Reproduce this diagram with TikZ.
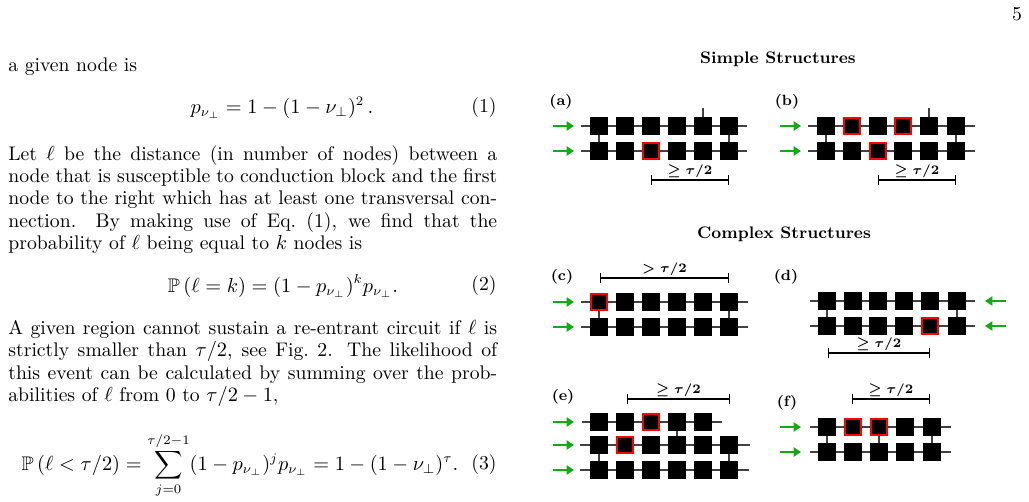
\documentclass[tikz,border=0pt]{standalone}
\usepackage{amsmath,amssymb}
\usetikzlibrary{arrows.meta}
\begin{document}
\begin{tikzpicture}[x=0.538pt,y=-0.538pt,
  sq/.style={fill=black,draw=black,minimum size=8.8pt,inner sep=0pt},
  redsq/.style={fill=black,draw=red,line width=1.1pt,minimum size=8.8pt,inner sep=0pt},
  ln/.style={draw=black!75,line width=0.6pt},
  garr/.style={draw={rgb,255:red,20;green,170;blue,20},line width=1.2pt,-{Triangle[length=4pt,width=5pt]}},
  bar/.style={line width=0.7pt,{Bar[width=5pt]}-{Bar[width=5pt]}},
  lab/.style={font=\footnotesize\bfseries,inner sep=0pt},
  blab/.style={font=\scriptsize\boldmath,inner sep=0.8pt,above},
  txt/.style={inner sep=0pt,font=\fontsize{10.6}{12}\selectfont}]
\useasboundingbox (0,0) rectangle (1029,502);
% page number
\node[txt] (pg) at (1017,14) {5};
% left column text
\node[txt,anchor=base west] (t0) at (8,72) {a given node is};
\node[txt] (e1) at (282,108) {$\displaystyle p_{\nu_\perp} = 1-(1-\nu_\perp)^2\,.$};
\node[txt,anchor=east] (n1) at (497,108) {(1)};
\node[txt,anchor=north west,text width=263pt,align=justify] (p1) at (8,145) {Let $\ell$ be the distance (in number of nodes) between a\linebreak node that is susceptible to conduction block and the first\linebreak node to the right which has at least one transversal con-\linebreak nection. By making use of Eq.~(1), we find that the\linebreak probability of $\ell$ being equal to $k$ nodes is};
\node[txt] (e2) at (283,286) {$\displaystyle \mathbb{P}\left(\ell=k\right) = (1-p_{\nu_\perp})^k p_{\nu_\perp}.$};
\node[txt,anchor=east] (n2) at (497,286) {(2)};
\node[txt,anchor=north west,text width=263pt,align=justify] (p2) at (8,320) {A given region cannot sustain a re-entrant circuit if $\ell$ is\linebreak strictly smaller than $\tau/2$, see Fig.~2. The likelihood of\linebreak this event can be calculated by summing over the prob-\linebreak abilities of $\ell$ from 0 to $\tau/2-1$,};
\node[txt] (e3) at (240,465) {$\displaystyle \mathbb{P}\left(\ell<\tau/2\right) = \sum_{j=0}^{\tau/2-1}(1-p_{\nu_\perp})^j p_{\nu_\perp} = 1-(1-\nu_\perp)^\tau.$};
\node[txt,anchor=east] (n3) at (497,465) {(3)};
% titles
\node[font=\small\bfseries,inner sep=0pt] (ts) at (778,59) {Simple Structures};
\node[font=\small\bfseries,inner sep=0pt] (tc) at (784,234) {Complex Structures};
% ===== (a)
\node[lab] (la) at (561,102) {(a)};
\coordinate (a1L) at (581,126); \coordinate (a1R) at (747,126);
\coordinate (a2L) at (581,151); \coordinate (a2R) at (747,151);
\draw[ln] (a1L) -- (a1R); \draw[ln] (a2L) -- (a2R);
\foreach \i/\x in {1/599,2/625,3/651,4/677,5/703,6/729}{
  \node[sq] (a1\i) at (\x,126) {}; \node[sq] (a2\i) at (\x,151) {};}
\draw[ln] (a11) -- (a21); \draw[ln] (a16) -- (a26);
\coordinate (a5t) at (703,108); \draw[ln] (a15) -- (a5t);
\node[redsq] (a23r) at (a23) {};
\coordinate (aq1) at (553,126); \coordinate (aq2) at (574,126);
\coordinate (aq3) at (553,151); \coordinate (aq4) at (574,151);
\draw[garr] (aq1) -- (aq2); \draw[garr] (aq3) -- (aq4);
\coordinate (ab1) at (651,180); \coordinate (ab2) at (729,180);
\draw[bar] (ab1) -- node[blab] {$\geq\tau/2$} (ab2);
% ===== (b)
\node[lab] (lb) at (787,102) {(b)};
\coordinate (b1L) at (808,126); \coordinate (b1R) at (975,126);
\coordinate (b2L) at (808,151); \coordinate (b2R) at (975,151);
\draw[ln] (b1L) -- (b1R); \draw[ln] (b2L) -- (b2R);
\foreach \i/\x in {1/826,2/852,3/878,4/903,5/929,6/956}{
  \node[sq] (b1\i) at (\x,126) {}; \node[sq] (b2\i) at (\x,151) {};}
\draw[ln] (b11) -- (b21); \draw[ln] (b16) -- (b26);
\coordinate (b5t) at (929,108); \draw[ln] (b15) -- (b5t);
\node[redsq] (b12r) at (b12) {}; \node[redsq] (b14r) at (b14) {}; \node[redsq] (b23r) at (b23) {};
\coordinate (bq1) at (780,126); \coordinate (bq2) at (801,126);
\coordinate (bq3) at (780,151); \coordinate (bq4) at (801,151);
\draw[garr] (bq1) -- (bq2); \draw[garr] (bq3) -- (bq4);
\coordinate (bb1) at (878,180); \coordinate (bb2) at (956,180);
\draw[bar] (bb1) -- node[blab] {$\geq\tau/2$} (bb2);
% ===== (c)
\node[lab] (lc) at (562,277) {(c)};
\coordinate (c1L) at (581,302); \coordinate (c1R) at (748,302);
\coordinate (c2L) at (581,327); \coordinate (c2R) at (748,327);
\draw[ln] (c1L) -- (c1R); \draw[ln] (c2L) -- (c2R);
\foreach \i/\x in {1/599,2/625,3/651,4/677,5/703,6/729}{
  \node[sq] (c1\i) at (\x,302) {}; \node[sq] (c2\i) at (\x,327) {};}
\draw[ln] (c11) -- (c21); \draw[ln] (c16) -- (c26);
\node[redsq] (c11r) at (c11) {};
\coordinate (cq1) at (553,302); \coordinate (cq2) at (574,302);
\coordinate (cq3) at (553,327); \coordinate (cq4) at (574,327);
\draw[garr] (cq1) -- (cq2); \draw[garr] (cq3) -- (cq4);
\coordinate (cb1) at (600,278); \coordinate (cb2) at (729,278);
\draw[bar] (cb1) -- node[blab] {$>\tau/2$} (cb2);
% ===== (d)
\node[lab] (ld) at (786,277) {(d)};
\coordinate (d1L) at (810,301); \coordinate (d1R) at (975,301);
\coordinate (d2L) at (810,326); \coordinate (d2R) at (975,326);
\draw[ln] (d1L) -- (d1R); \draw[ln] (d2L) -- (d2R);
\foreach \i/\x in {1/827,2/853,3/878,4/904,5/930,6/957}{
  \node[sq] (d1\i) at (\x,301) {}; \node[sq] (d2\i) at (\x,326) {};}
\draw[ln] (d11) -- (d21); \draw[ln] (d16) -- (d26);
\node[redsq] (d25r) at (d25) {};
\coordinate (dq1) at (1006,301); \coordinate (dq2) at (985,301);
\coordinate (dq3) at (1006,326); \coordinate (dq4) at (985,326);
\draw[garr] (dq1) -- (dq2); \draw[garr] (dq3) -- (dq4);
\coordinate (db1) at (828,353); \coordinate (db2) at (930,353);
\draw[bar] (db1) -- node[blab] {$\geq\tau/2$} (db2);
% ===== (e)
\node[lab] (le) at (563,397) {(e)};
\coordinate (e1L) at (582,422); \coordinate (e1R) at (722,422);
\coordinate (e2L) at (580,445); \coordinate (e2R) at (750,445);
\coordinate (e3L) at (580,470); \coordinate (e3R) at (749,470);
\draw[ln] (e1L) -- (e1R); \draw[ln] (e2L) -- (e2R); \draw[ln] (e3L) -- (e3R);
\foreach \i/\x in {1/599,2/625,3/651,4/677,5/703}{\node[sq] (e1\i) at (\x,422) {};}
\foreach \i/\x in {1/599,2/625,3/651,4/677,5/703,6/729}{
  \node[sq] (e2\i) at (\x,445) {}; \node[sq] (e3\i) at (\x,470) {};}
\draw[ln] (e14) -- (e24); \draw[ln] (e21) -- (e31); \draw[ln] (e26) -- (e36);
\node[redsq] (e13r) at (e13) {}; \node[redsq] (e22r) at (e22) {};
\coordinate (eq1) at (553,422); \coordinate (eq2) at (574,422);
\coordinate (eq3) at (553,445); \coordinate (eq4) at (574,445);
\coordinate (eq5) at (553,470); \coordinate (eq6) at (574,470);
\draw[garr] (eq1) -- (eq2); \draw[garr] (eq3) -- (eq4); \draw[garr] (eq5) -- (eq6);
\coordinate (eb1) at (627,399); \coordinate (eb2) at (730,399);
\draw[bar] (eb1) -- node[blab] {$\geq\tau/2$} (eb2);
% ===== (f)
\node[lab] (lf) at (787,403) {(f)};
\coordinate (f1L) at (810,427); \coordinate (f1R) at (951,427);
\coordinate (f2L) at (810,452); \coordinate (f2R) at (951,452);
\draw[ln] (f1L) -- (f1R); \draw[ln] (f2L) -- (f2R);
\foreach \i/\x in {1/827,2/853,3/879,4/905,5/932}{
  \node[sq] (f1\i) at (\x,427) {}; \node[sq] (f2\i) at (\x,452) {};}
\draw[ln] (f11) -- (f21); \draw[ln] (f13) -- (f23); \draw[ln] (f15) -- (f25);
\node[redsq] (f12r) at (f12) {}; \node[redsq] (f13r) at (f13) {};
\coordinate (fq1) at (780,427); \coordinate (fq2) at (801,427);
\coordinate (fq3) at (780,452); \coordinate (fq4) at (801,452);
\draw[garr] (fq1) -- (fq2); \draw[garr] (fq3) -- (fq4);
\coordinate (fb1) at (852,399); \coordinate (fb2) at (930,399);
\draw[bar] (fb1) -- node[blab] {$\geq\tau/2$} (fb2);
\end{tikzpicture}
\end{document}
